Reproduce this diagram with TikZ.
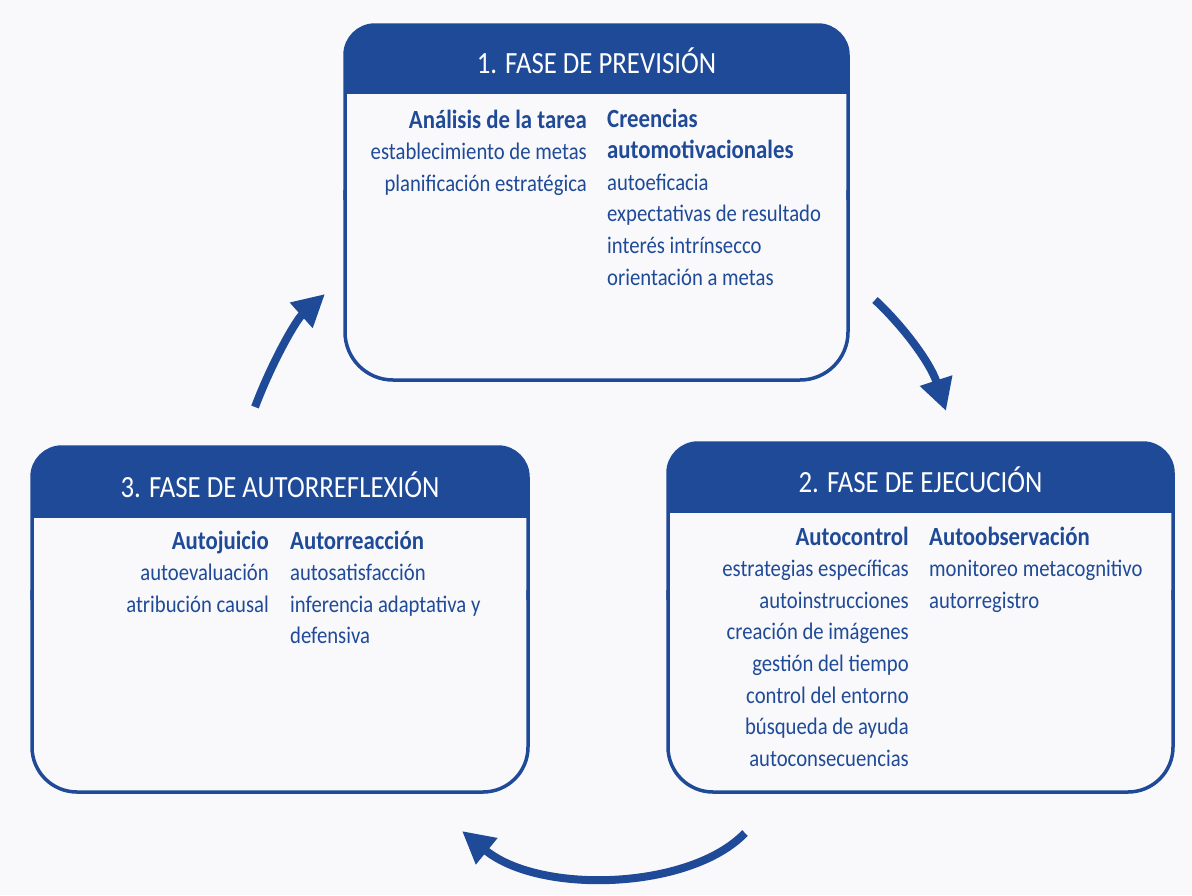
\documentclass[tikz,border=0pt]{standalone}
\usepackage{fontspec}
\setmainfont{Carlito}
\usepackage{graphicx}
\usetikzlibrary{arrows.meta}
\definecolor{phase}{HTML}{1F4A97}
\definecolor{bg}{HTML}{F9F9FC}
\newcommand{\colR}[1]{\scalebox{1}[1.15]{\begin{tabular}[t]{@{}r@{}}#1\end{tabular}}}
\newcommand{\colL}[1]{\scalebox{1}[1.15]{\begin{tabular}[t]{@{}l@{}}#1\end{tabular}}}
\newcommand{\ttl}[1]{\scalebox{1}[1.15]{#1}}
\newcommand{\hd}[1]{{\fontsize{22.8}{27.5}\selectfont\bfseries #1}}
\begin{document}
\begin{tikzpicture}[x=1pt,y=-1pt,
  boxline/.style={draw=phase, line width=3.5pt},
  body/.style={inner sep=0pt, text=phase, font=\fontsize{20.7}{27.5}\selectfont},
  title/.style={inner sep=0pt, text=white, font=\fontsize{26.8}{30}\selectfont, anchor=base},
  cyc/.style={draw=phase, line width=8pt, -{Triangle[length=32pt,width=32pt]}}]
\fill[bg] (0,0) rectangle (1192,895);
\useasboundingbox (0,0) rectangle (1192,895);

% Box 1
\begin{scope}
  \clip (0,0) rectangle (1192,93);
  \fill[phase, rounded corners=30pt] (345,25) rectangle (848,200);
\end{scope}
\draw[boxline, rounded corners=30pt] (345,200) -- (345,25) -- (848,25) -- (848,200);
\draw[boxline, rounded corners=48pt] (848,190) -- (848,380) -- (345,380) -- (345,190);

% Box 2
\begin{scope}
  \clip (0,0) rectangle (1192,512);
  \fill[phase, rounded corners=30pt] (668,443) rectangle (1173,600);
\end{scope}
\draw[boxline, rounded corners=30pt] (668,600) -- (668,443) -- (1173,443) -- (1173,600);
\draw[boxline, rounded corners=45pt] (1173,590) -- (1173,792) -- (668,792) -- (668,590);

% Box 3
\begin{scope}
  \clip (0,0) rectangle (1192,517);
  \fill[phase, rounded corners=30pt] (32,447) rectangle (528,600);
\end{scope}
\draw[boxline, rounded corners=30pt] (32,600) -- (32,447) -- (528,447) -- (528,600);
\draw[boxline, rounded corners=45pt] (528,590) -- (528,792) -- (32,792) -- (32,590);

% Titles
\node[title] (t1) at (596.5,73) {\ttl{1. FASE DE PREVISIÓN}};
\node[title] (t2) at (920.5,492) {\ttl{2. FASE DE EJECUCIÓN}};
\node[title] (t3) at (280,497) {\ttl{3. FASE DE AUTORREFLEXIÓN}};

% Box 1 text
\node[body, anchor=base east] (b1l) at (587,128) {\colR{\hd{Análisis de la tarea}\\establecimiento de metas\\planificación estratégica}};
\node[body, anchor=base west] (b1r) at (607,127) {\colL{\hd{Creencias}\\\hd{automotivacionales}\\autoeficacia\\expectativas de resultado\\interés intrínsecco\\orientación a metas}};

% Box 2 text
\node[body, anchor=base east] (b2l) at (909,545) {\colR{\hd{Autocontrol}\\estrategias específicas\\autoinstrucciones\\creación de imágenes\\gestión del tiempo\\control del entorno\\búsqueda de ayuda\\autoconsecuencias}};
\node[body, anchor=base west] (b2r) at (929,545) {\colL{\hd{Autoobservación}\\monitoreo metacognitivo\\autorregistro}};

% Box 3 text
\node[body, anchor=base east] (b3l) at (269,549) {\colR{\hd{Autojuicio}\\autoevaluación\\atribución causal}};
\node[body, anchor=base west] (b3r) at (290,549) {\colL{\hd{Autorreacción}\\autosatisfacción\\inferencia adaptativa y\\defensiva}};

% Cycle arrows
\coordinate (a1s) at (255,407);
\coordinate (a1e) at (325,294);
\coordinate (a2s) at (875,300);
\coordinate (a2e) at (946,411);
\coordinate (a3s) at (745,833);
\coordinate (a3e) at (462,831);
\draw[cyc] (a1s) .. controls (272,362) and (296,320) .. (a1e);
\draw[cyc] (a2s) .. controls (902,325) and (930,362) .. (a2e);
\draw[cyc] (a3s) .. controls (690,890) and (540,895) .. (a3e);
\end{tikzpicture}
\end{document}
